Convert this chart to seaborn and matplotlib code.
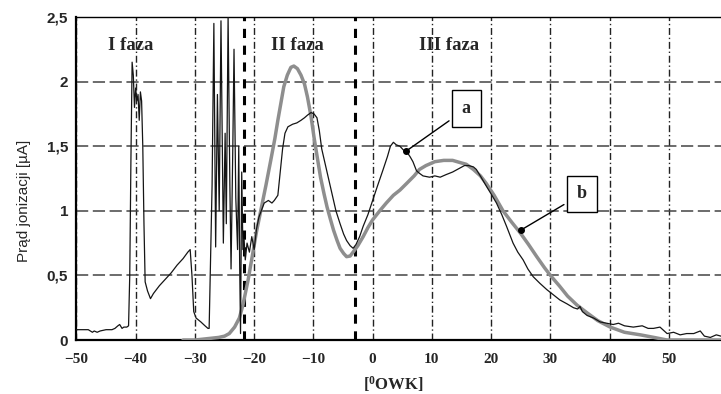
import numpy as np
import pandas as pd
import matplotlib
matplotlib.use("Agg")
import matplotlib.pyplot as plt
import seaborn as sns

# --- DATA ---
# krzywa a: zmierzony prad jonizacji
a_x = [-50, -49, -48, -47.3, -47, -46.5, -46, -45, -44, -43.5, -43, -42.7, -42.3, -42,
       -41.5, -41.2, -41.0, -40.8, -40.6, -40.4, -40.2, -40.0, -39.8, -39.6, -39.4, -39.2,
       -39.0, -38.8, -38.6, -38.4, -38.0, -37.5, -37.0, -36, -35, -34, -33, -32, -31.2,
       -30.8, -30.5, -30.2, -29.8, -29.0, -28.3, -27.8, -27.6,
       -27.4, -27.1, -26.8, -26.5, -26.2, -25.9, -25.6, -25.2, -24.9, -24.7, -24.4, -24.1,
       -23.9, -23.6, -23.4, -23.1, -22.8, -22.6, -22.45, -22.3, -22.1, -21.9, -21.7, -21.5,
       -21.2, -20.8, -20.4, -20.0, -19.6, -19.2, -18.8, -18.3, -17.6, -17.0, -16.6, -16.0,
       -15.6, -15.2, -14.8, -14.3, -13.5, -12.8, -12.1, -11.5, -11.0, -10.4, -9.9, -9.4,
       -9.0, -8.6, -8.0, -7.4, -6.8, -6.2, -5.5, -4.9, -4.4, -3.8, -3.3, -2.8, -2.2, -1.6,
       -0.8, 0, 0.8, 1.7, 2.5, 3.0, 3.5, 4.0, 4.6, 5.2, 5.7, 6.3, 6.8, 7.4, 7.9, 8.5, 9.6,
       10.5, 11.4, 12.4, 13.5, 14.7, 15.5, 16.2, 17.0, 17.5, 18.3, 19.2, 20.0, 20.9, 21.8,
       22.6, 23.7, 24.5, 25.4, 26.2, 27.1, 28.2, 29.4, 30.5, 31.6, 32.8, 33.9, 34.6, 35.0,
       35.4, 36.2, 37.3, 38.4, 39.5, 40.6, 41.5, 42.5, 44.0, 45.5, 46.5, 47.4, 48.5, 49.7,
       50.8, 51.9, 53.0, 54.2, 55.3, 56.0, 57.0, 58.0, 58.8]
a_y = [0.08, 0.08, 0.08, 0.06, 0.07, 0.06, 0.07, 0.08, 0.08, 0.09, 0.11, 0.12, 0.09, 0.10,
       0.10, 0.11, 0.5, 1.4, 2.15, 2.05, 1.8, 1.95, 1.85, 1.9, 1.7, 1.92,
       1.85, 1.5, 0.9, 0.45, 0.38, 0.32, 0.36, 0.42, 0.47, 0.52, 0.58, 0.63, 0.68,
       0.7, 0.5, 0.22, 0.17, 0.14, 0.11, 0.09, 0.09,
       0.55, 1.2, 2.45, 0.72, 1.9, 1.0, 2.47, 0.75, 1.6, 0.9, 2.5, 1.2,
       0.55, 1.5, 2.25, 1.1, 0.7, 1.5, 0.6, 0.05, 1.3, 0.7, 0.78, 0.62,
       0.75, 0.68, 0.8, 0.7, 0.86, 0.95, 1.0, 1.06, 1.08, 1.06, 1.08, 1.12,
       1.3, 1.48, 1.6, 1.65, 1.67, 1.68, 1.70, 1.72, 1.74, 1.76, 1.75, 1.72,
       1.62, 1.48, 1.36, 1.24, 1.12, 1.0, 0.9, 0.82, 0.77, 0.73, 0.71, 0.74, 0.8, 0.88,
       0.97, 1.08, 1.19, 1.31, 1.42, 1.5, 1.53, 1.51, 1.5, 1.47, 1.46, 1.42, 1.38, 1.31,
       1.29, 1.27, 1.26, 1.27, 1.26, 1.28, 1.30, 1.33, 1.35, 1.35, 1.34, 1.32, 1.26, 1.19,
       1.13, 1.06, 0.97, 0.88, 0.75, 0.68, 0.62, 0.55, 0.49, 0.44, 0.39, 0.35, 0.31, 0.28,
       0.25, 0.24, 0.26, 0.22, 0.19, 0.17, 0.14, 0.13, 0.12, 0.13, 0.11, 0.10, 0.11, 0.09,
       0.09, 0.1, 0.05, 0.06, 0.04, 0.05, 0.05, 0.07, 0.03, 0.02, 0.04, 0.03]

# krzywa b: przebieg wygladzony / modelowy
b_x = [-32, -30, -28, -26, -25, -24.2, -23.3, -22.5, -21.9, -21.0, -20.2, -19.6, -18.8,
       -18.0, -17.2, -16.5, -16.0, -15.5, -15.0, -14.4, -13.8, -13.3, -12.7, -12.1, -11.5,
       -11.0, -10.4, -9.9, -9.3, -8.8, -8.2, -7.7, -7.1, -6.6, -6.0, -5.5, -4.9, -4.4,
       -3.8, -3.3, -2.5, -1.6, -0.8, 0, 1.2, 2.3, 3.5, 4.6, 5.7, 7.0, 7.9, 9.0, 10.5, 12.0,
       13.5, 15.0, 15.8, 17.0, 18.2, 19.2, 20.5, 22.0, 23.5, 24.9, 26.3, 27.7, 29.0, 30.0,
       31.5, 32.9, 34.5, 36.2, 38.0, 40.1, 42.5, 45.2, 47.5, 49.7, 53, 56, 58.8]
b_y = [0, 0.0, 0.01, 0.02, 0.03, 0.05, 0.1, 0.17, 0.27, 0.47, 0.68, 0.84, 1.02,
       1.2, 1.39, 1.56, 1.70, 1.83, 1.96, 2.05, 2.11, 2.12, 2.10, 2.05, 1.98,
       1.88, 1.73, 1.57, 1.40, 1.26, 1.13, 1.03, 0.93, 0.85, 0.77, 0.71, 0.67, 0.645,
       0.65, 0.68, 0.73, 0.80, 0.87, 0.93, 1.0, 1.06, 1.12, 1.16, 1.21, 1.27, 1.32, 1.35,
       1.38, 1.39, 1.39, 1.37, 1.36, 1.32, 1.27, 1.21, 1.12, 1.0, 0.91, 0.83, 0.74, 0.645,
       0.56, 0.50, 0.42, 0.34, 0.27, 0.21, 0.15, 0.10, 0.06, 0.04, 0.02, 0.0, 0, 0, 0]

phase_bounds = [-21.7, -3.0]
phase_names = ["I faza", "II faza", "III faza"]
phase_pos = [-40.8, -12.7, 12.9]

x_ticks = [-50, -40, -30, -20, -10, 0, 10, 20, 30, 40, 50]
y_ticks = [0, 0.5, 1, 1.5, 2, 2.5]
y_labels = ["0", "0,5", "1", "1,5", "2", "2,5"]

df_a = pd.DataFrame({"kat": a_x, "prad": a_y})
df_b = pd.DataFrame({"kat": b_x, "prad": b_y})

# --- WYKRES ---
sns.set_style("white")
plt.rcParams['font.family'] = ['Liberation Sans', 'DejaVu Sans']

fig = plt.figure(figsize=(7.21, 3.94), dpi=100)
ax = fig.add_axes([0.106, 0.137, 0.894, 0.82])

sns.lineplot(data=df_b, x="kat", y="prad", ax=ax, color="#8e8e8e", linewidth=2.5,
             sort=False, estimator=None, zorder=3)
sns.lineplot(data=df_a, x="kat", y="prad", ax=ax, color="#151515", linewidth=0.9,
             sort=False, estimator=None, zorder=4)

for xb in phase_bounds:
    ax.axvline(xb, color="black", linewidth=2.2, linestyle=(0, (3, 2.5)), zorder=2)

ax.set_xlim(-50, 58.8)
ax.set_ylim(0, 2.5)
ax.set_xticks(x_ticks)
ax.set_yticks(y_ticks)
ax.set_yticklabels(y_labels)

ax.grid(axis="x", color="#222222", linewidth=1.0, linestyle=(0, (5, 2, 1, 2)))
ax.grid(axis="y", color="#444444", linewidth=1.1, linestyle=(0, (8, 3)))
ax.set_axisbelow(True)

for lab in ax.get_xticklabels():
    lab.set_fontfamily("Liberation Serif")
    lab.set_fontweight("bold")
    lab.set_fontsize(11)
for lab in ax.get_yticklabels():
    lab.set_fontweight("bold")
    lab.set_fontsize(11)
ax.tick_params(axis="x", length=0, pad=9)
ax.tick_params(axis="y", length=0, pad=6)

ax.set_xlabel("[$\\mathregular{^0}$OWK]", fontfamily="Liberation Serif",
              fontweight="bold", fontsize=12)
ax.xaxis.set_label_coords(0.492, -0.105)
ax.set_ylabel("Prąd jonizacji [µA]", fontsize=11)
ax.yaxis.set_label_coords(-0.071, 0.43)

for sp in ["left", "bottom", "top"]:
    ax.spines[sp].set_color("black")
ax.spines["left"].set_linewidth(1.6)
ax.spines["bottom"].set_linewidth(1.6)
ax.spines["top"].set_linewidth(1.0)
ax.spines["right"].set_visible(False)

for name, xp in zip(phase_names, phase_pos):
    ax.text(xp, 2.28, name, ha="center", va="center", fontfamily="Liberation Serif",
            fontweight="bold", fontsize=13.5)

# etykiety krzywych
box = dict(boxstyle="square,pad=0.55", facecolor="white", edgecolor="black", linewidth=1.0)
ax.annotate("a", xy=(5.6, 1.46), xytext=(15.8, 1.79), ha="center", va="center",
            fontfamily="Liberation Serif", fontweight="bold", fontsize=13, bbox=box,
            arrowprops=dict(arrowstyle="-", color="black", linewidth=1.0, shrinkB=0))
ax.annotate("b", xy=(25.0, 0.85), xytext=(35.3, 1.13), ha="center", va="center",
            fontfamily="Liberation Serif", fontweight="bold", fontsize=13, bbox=box,
            arrowprops=dict(arrowstyle="-", color="black", linewidth=1.0, shrinkB=0))
ax.plot([5.6, 25.0], [1.46, 0.85], "o", color="black", markersize=4, zorder=6)

fig.savefig("out.png", dpi=100)
